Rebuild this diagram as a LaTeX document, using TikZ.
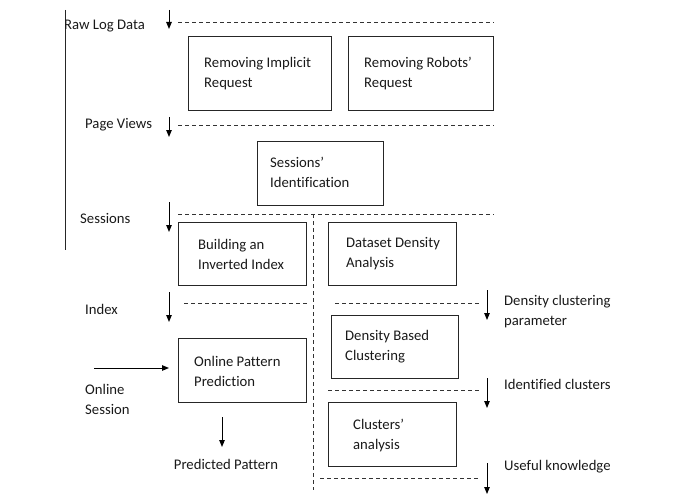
\documentclass[tikz,border=0pt]{standalone}
\usepackage{fontspec}
\setmainfont{Carlito}[Ligatures=NoCommon]
\usetikzlibrary{arrows.meta,calc}
\begin{document}
\begin{tikzpicture}[x=1pt,y=-1pt,
  box/.style={draw=black!85,line width=1pt,rectangle,inner sep=0pt},
  txt/.style={inner sep=0pt,align=left,font=\fontsize{14.7}{20}\selectfont,text=black!90,anchor=west,yshift=-2pt},
  dashline/.style={draw=black!80,line width=0.9pt,dash pattern=on 4pt off 3pt},
  arr/.style={draw=black,line width=1pt,-{Triangle[length=7pt,width=5.5pt]}}
]
\useasboundingbox (0,0) rectangle (682,500);
% left solid line
\coordinate (L1) at (65,10); \coordinate (L2) at (65,250);
\draw[black!85,line width=1pt] (L1) -- (L2);
% boxes
\node[box,minimum width=143pt,minimum height=74pt] (b1) at (259.5,74) {};
\node[box,minimum width=145pt,minimum height=74pt] (b2) at (420.5,74) {};
\node[box,minimum width=126pt,minimum height=64pt] (b3) at (320,173) {};
\node[box,minimum width=128pt,minimum height=63pt] (b4) at (242,253.5) {};
\node[box,minimum width=128pt,minimum height=63pt] (b5) at (392,253.5) {};
\node[box,minimum width=127pt,minimum height=63pt] (b6) at (394.5,346.5) {};
\node[box,minimum width=128pt,minimum height=64pt] (b7) at (242,370) {};
\node[box,minimum width=128pt,minimum height=64pt] (b8) at (392,434) {};
% box texts
\node[txt] (t1) at (204,72) {Removing Implicit\\Request};
\node[txt] (t2) at (364,72) {Removing Robots’\\Request};
\node[txt] (t3) at (270,170.5) {Sessions’\\Identification};
\node[txt] (t4) at (198,252) {Building an\\Inverted Index};
\node[txt] (t5) at (346,252) {Dataset Density\\Analysis};
\node[txt] (t6) at (345,345) {Density Based\\Clustering};
\node[txt] (t7) at (194,369) {Online Pattern\\Prediction};
\node[txt] (t8) at (353,433) {Clusters’\\analysis};
% side labels
\node[txt] (raw) at (64,24) {Raw Log Data};
\node[txt] (pv) at (85,123) {Page Views};
\node[txt] (ses) at (80,216) {Sessions};
\node[txt] (idx) at (85,307) {Index};
\node[txt] (onl) at (85,397) {Online\\Session};
\node[txt,anchor=center] (pp) at (226,462) {Predicted Pattern};
\node[txt] (dcp) at (504,310) {Density clustering\\parameter};
\node[txt] (ic) at (504,382) {Identified clusters};
\node[txt] (uk) at (504,465) {Useful knowledge};
% dashed lines
\coordinate (d1a) at (178,22); \coordinate (d1b) at (494,22);
\coordinate (d2a) at (178,125); \coordinate (d2b) at (494,125);
\coordinate (d3a) at (178,214); \coordinate (d3b) at (494,214);
\coordinate (v1) at (313,214); \coordinate (v2) at (313,490);
\coordinate (d4a) at (184,303); \coordinate (d4b) at (307,303);
\coordinate (d5a) at (335,303); \coordinate (d5b) at (480,303);
\coordinate (d6a) at (328,390); \coordinate (d6b) at (480,390);
\coordinate (d7a) at (320,478); \coordinate (d7b) at (478,478);
\draw[dashline] (d1a) -- (d1b);
\draw[dashline] (d2a) -- (d2b);
\draw[dashline] (d3a) -- (d3b);
\draw[dashline] (v1) -- (v2);
\draw[dashline] (d4a) -- (d4b);
\draw[dashline] (d5a) -- (d5b);
\draw[dashline] (d6a) -- (d6b);
\draw[dashline] (d7a) -- (d7b);
% arrows
\coordinate (a1s) at (169,10); \coordinate (a1e) at (169,29);
\coordinate (a2s) at (169,117); \coordinate (a2e) at (169,137);
\coordinate (a3s) at (169,202); \coordinate (a3e) at (169,232);
\coordinate (a4s) at (169,292); \coordinate (a4e) at (169,322);
\coordinate (a5s) at (94,368); \coordinate (a5e) at (169,368);
\coordinate (a6s) at (222,417); \coordinate (a6e) at (222,447);
\coordinate (a7s) at (487,290); \coordinate (a7e) at (487,320);
\coordinate (a8s) at (487,378); \coordinate (a8e) at (487,408);
\coordinate (a9s) at (487,463); \coordinate (a9e) at (487,494);
\foreach \i in {1,...,9} {\draw[arr] (a\i s) -- (a\i e);}
\end{tikzpicture}
\end{document}
